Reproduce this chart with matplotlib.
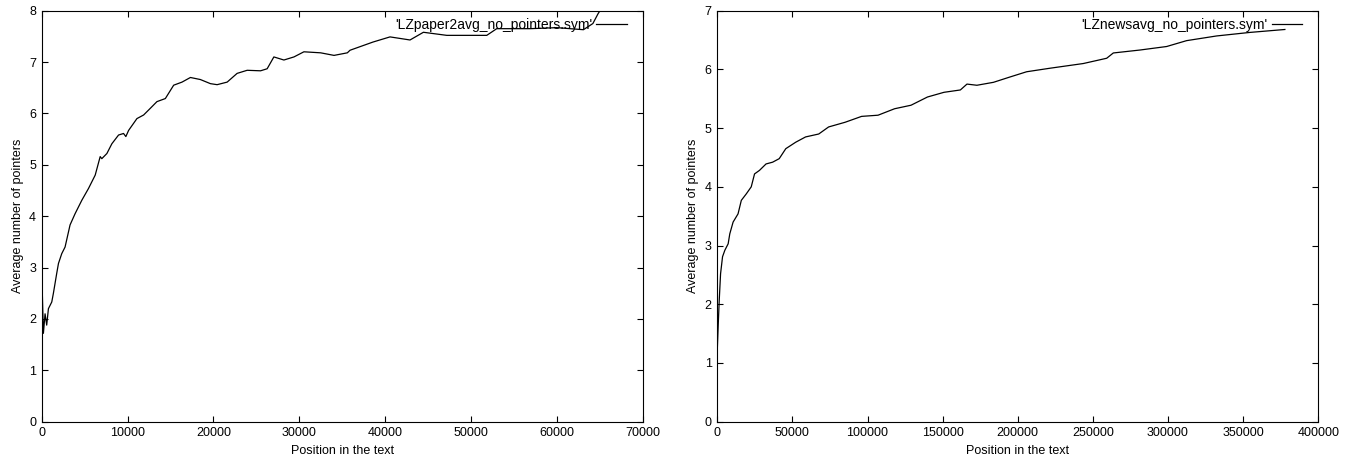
import matplotlib
matplotlib.use("Agg")
import matplotlib.pyplot as plt

plt.rcParams['font.family'] = ['Liberation Sans', 'DejaVu Sans']

# Left chart: LZpaper2avg_no_pointers.sym
paper_x = [60, 150, 195, 390, 580, 780, 1170, 1360, 1750, 1950, 2330, 2720, 3300, 3890, 4670,
           5450, 6230, 6810, 7000, 7590, 8170, 8950, 9530, 9800, 10120, 11090, 11870, 12650,
           13420, 14400, 15370, 16340, 17320, 18480, 19650, 20430, 21600, 22760, 23930,
           25490, 26260, 27040, 28210, 29380, 30540, 32490, 34050, 35600, 35910, 38590,
           40570, 42900, 44460, 47180, 51840, 53000, 56900, 60000, 63100, 64200, 64800,
           65100, 65300]
paper_y = [2.56, 2.0, 1.72, 2.10, 1.88, 2.20, 2.33, 2.50, 2.89, 3.08, 3.27, 3.40, 3.83, 4.05, 4.31,
           4.54, 4.80, 5.16, 5.12, 5.22, 5.41, 5.58, 5.61, 5.55, 5.67, 5.90, 5.97, 6.10,
           6.23, 6.29, 6.55, 6.61, 6.70, 6.66, 6.58, 6.56, 6.61, 6.78, 6.84,
           6.83, 6.87, 7.10, 7.04, 7.10, 7.20, 7.18, 7.13, 7.18, 7.23, 7.39,
           7.49, 7.43, 7.58, 7.52, 7.52, 7.65, 7.65, 7.67, 7.63, 7.75, 7.94,
           8.02, 8.10]

# Right chart: LZnewsavg_no_pointers.sym
news_x = [0, 660, 1300, 2190, 3500, 5040, 7240, 8330, 10530, 13820, 16000, 19300, 22600,
          24800, 28070, 32460, 36840, 41230, 45600, 52200, 58770, 67540, 74100, 85100,
          96050, 107000, 118000, 128950, 139900, 150900, 161800, 166200, 172800, 183800,
          194700, 205900, 221400, 243600, 259200, 263600, 281300, 299100, 312400, 332400,
          354500, 377800]
news_y = [1.22, 1.67, 2.07, 2.52, 2.81, 2.92, 3.03, 3.20, 3.40, 3.54, 3.77, 3.88, 4.00,
          4.22, 4.28, 4.39, 4.42, 4.48, 4.65, 4.76, 4.85, 4.90, 5.02, 5.10,
          5.20, 5.22, 5.33, 5.39, 5.53, 5.61, 5.65, 5.75, 5.73, 5.78,
          5.87, 5.96, 6.02, 6.10, 6.19, 6.28, 6.33, 6.39, 6.49, 6.57,
          6.63, 6.68]

left_xticks = [0, 10000, 20000, 30000, 40000, 50000, 60000, 70000]
left_yticks = [0, 1, 2, 3, 4, 5, 6, 7, 8]
right_xticks = [0, 50000, 100000, 150000, 200000, 250000, 300000, 350000, 400000]
right_yticks = [0, 1, 2, 3, 4, 5, 6, 7]

fig = plt.figure(figsize=(13.59, 4.63), dpi=100)
axL = fig.add_axes([0.0307, 0.0892, 0.4422, 0.8877])
axR = fig.add_axes([0.5278, 0.0892, 0.4422, 0.8877])

def style(ax, xt, yt, xmax, ymax):
    ax.set_xlim(0, xmax)
    ax.set_ylim(0, ymax)
    ax.set_xticks(xt)
    ax.set_yticks(yt)
    ax.set_xticklabels([str(v) for v in xt])
    ax.tick_params(direction='in', length=4.0, width=0.8, top=True, right=True,
                   labelsize=9, pad=4)
    for s in ax.spines.values():
        s.set_linewidth(0.8)
    ax.set_xlabel('Position in the text', fontsize=9, labelpad=4)
    ax.set_ylabel('Average number of pointers', fontsize=9, labelpad=4)

axL.plot(paper_x, paper_y, color='black', linewidth=0.9,
         label="'LZpaper2avg_no_pointers.sym'")
style(axL, left_xticks, left_yticks, 70000, 8)
axR.plot(news_x, news_y, color='black', linewidth=0.9,
         label="'LZnewsavg_no_pointers.sym'")
style(axR, right_xticks, right_yticks, 400000, 7)

for ax in (axL, axR):
    ax.legend(loc='upper right', frameon=False, markerfirst=False, fontsize=10,
              handlelength=2.2, handletextpad=0.3, borderaxespad=0.0,
              bbox_to_anchor=(0.983, 0.995))

fig.savefig('out.png', dpi=100)
